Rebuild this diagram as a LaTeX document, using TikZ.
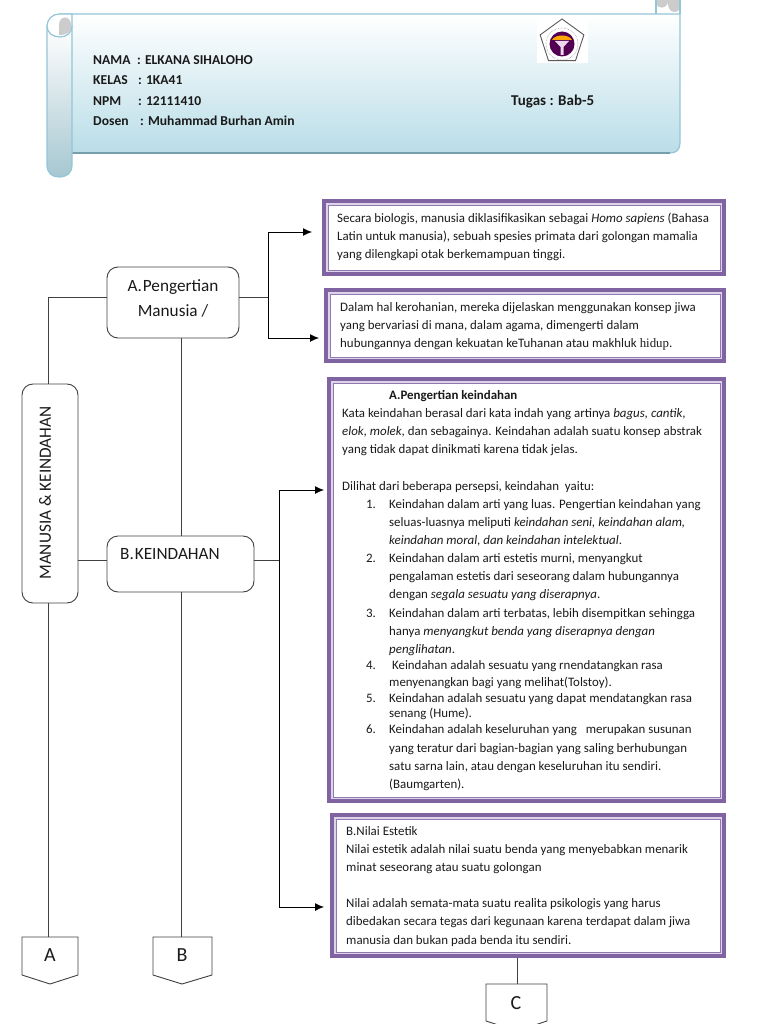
\documentclass[tikz,border=0pt]{standalone}
\usepackage{fontspec}
\setmainfont{Carlito}
\usetikzlibrary{arrows.meta,calc,shapes.geometric}
\definecolor{framep}{HTML}{8064A2}
\definecolor{framel}{HTML}{DDD4E9}
\definecolor{framet}{HTML}{9079B2}
\definecolor{linec}{HTML}{404040}
\definecolor{scrolle}{HTML}{93C6D6}
\definecolor{scrollb}{HTML}{B9DDE8}
\definecolor{txt}{HTML}{1A1A1A}
\tikzset{
  frameouter/.style={fill=framep,inner sep=0pt,outer sep=0pt},
  framemid/.style={fill=framel,inner sep=0pt,outer sep=0pt},
  frameinner/.style={fill=white,draw=framet,line width=.9pt,inner sep=0pt,outer sep=0pt},
  conn/.style={draw=linec,line width=.85pt},
  arr/.style={draw=black,line width=.9pt,-{Latex[length=9pt,width=8pt]}},
  rbox/.style={draw=linec,line width=.9pt,fill=white,rounded corners=11pt,inner sep=0pt,outer sep=0pt},
  bodytext/.style={anchor=north west,inner sep=0pt,align=left,text=txt,font=\fontsize{12.9}{18.15}\selectfont},
  boxlabel/.style={text=txt,font=\fontsize{17.2}{25}\selectfont,inner sep=0pt,align=center},
  letterlabel/.style={text=txt,font=\fontsize{20}{22}\selectfont,inner sep=0pt},
  offpage/.style={draw=linec,line width=.9pt,fill=white},
  headtext/.style={anchor=north west,inner sep=0pt,align=left,text=txt,font=\bfseries\fontsize{13.6}{20.5}\selectfont},
  tugastext/.style={anchor=north west,inner sep=0pt,text=txt,font=\bfseries\fontsize{15}{20.5}\selectfont},
}
\newcommand{\purplebox}[5]{%
  \node[frameouter,anchor=north west,minimum width=#4pt,minimum height=#5pt] (#1) at (#2,#3) {};
  \node[framemid,minimum width=#4pt-8pt,minimum height=#5pt-8pt] at (#1.center) {};
  \node[frameinner,minimum width=#4pt-12pt,minimum height=#5pt-12pt] at (#1.center) {};}
\newcommand{\itm}[2]{\hspace*{24pt}\makebox[23pt][l]{#1}#2}
\newcommand{\cnt}[1]{\hspace*{47pt}#1}
\begin{document}
\begin{tikzpicture}[x=1pt,y=-1pt]
\useasboundingbox (0,0) rectangle (768,1024);
% scroll
\path[draw=scrolle,line width=1.2pt,top color=white,bottom color=scrollb]
  (60,14) -- (680,14) -- (680,143) .. controls (680,150) and (676,153) .. (670,153) -- (60,153) -- cycle;
\draw[draw=scrolle!80!black,line width=1.4pt] (72,153) -- (670,153);
\fill[gray!40] (656,0) -- (656,4) .. controls (658,9) and (666,9) .. (668,3) .. controls (668,10) and (672,14) .. (678,11) -- (680,8) -- (680,0) -- cycle;
\draw[scrolle,line width=1.2pt] (656,0) -- (656,14);
\draw[scrolle,line width=1.2pt] (680,14) -- (680,0);
\path[draw=scrolle,line width=1.2pt,top color=white,bottom color=scrollb!90!black]
  (47,26) -- (47,165) .. controls (47,173) and (52,177) .. (59,177)
  .. controls (67,177) and (72,173) .. (72,165) -- (72,26) -- cycle;
\path[draw=scrolle,line width=1.2pt,fill=white]
  (59,14) .. controls (52,14) and (47,20) .. (47,26)
  .. controls (47,33) and (53,37) .. (60,37) .. controls (66,37) and (72,33) .. (72,26) -- (72,14) -- cycle;
\fill[gray!40] (59,35) -- (59,25) .. controls (59,15) and (71,15) .. (71,25) -- (71,30) .. controls (68,34) and (64,35) .. (59,35) -- cycle;
% logo
\fill[white] (537,18) rectangle (588,63);
\node[regular polygon,regular polygon sides=5,draw=gray!70!black,line width=.9pt,fill=white,minimum size=46pt,inner sep=0pt] (logoshape) at (562,42) {};
\fill[violet!65!black] (562,44) circle[radius=12.5pt];
\draw[gray,line width=.5pt,densely dotted] (562,44) circle[radius=16pt];
\fill[orange!70!yellow] (552,40) .. controls (555,34) and (569,34) .. (572,40) -- cycle;
\fill[white!85!violet] (555,41) -- (569,41) -- (563.5,47) -- (563.5,55) -- (560.5,55) -- (560.5,47) -- cycle;
% header text
\node[headtext] (head) at (93,55) {\makebox[44pt][l]{NAMA}: ELKANA SIHALOHO\\ \makebox[45pt][l]{KELAS}: 1KA41\\ \makebox[45pt][l]{NPM}: 12111410\\ \makebox[47pt][l]{Dosen}: Muhammad Burhan Amin};
\node[tugastext] (tugas) at (511,95) {Tugas : Bab-5};
% purple frames
\purplebox{f1}{322}{199}{404}{77}
\purplebox{f2}{324}{288}{402}{75}
\purplebox{f3}{327}{377}{399}{426}
\purplebox{f4}{330}{813}{396}{145}
\node[bodytext] (t1) at (337,213) {Secara biologis, manusia diklasifikasikan sebagai \textit{Homo sapiens} (Bahasa\\ Latin untuk manusia), sebuah spesies primata dari golongan mamalia\\ yang dilengkapi otak berkemampuan tinggi.};
\node[bodytext] (t2) at (340,302) {Dalam hal kerohanian, mereka dijelaskan menggunakan konsep jiwa\\ yang bervariasi di mana, dalam agama, dimengerti dalam\\ hubungannya dengan kekuatan keTuhanan atau makhluk {\fontspec{Liberation Serif}hidup}.};
\node[bodytext] (t3) at (342,390) {\hspace*{47pt}\textbf{A.Pengertian keindahan}\\
Kata keindahan berasal dari kata indah yang artinya \textit{bagus, cantik,}\\
\textit{elok, molek,} dan sebagainya. Keindahan adalah suatu konsep abstrak\\
yang tidak dapat dinikmati karena tidak jelas.\\
\mbox{}\\
Dilihat dari beberapa persepsi, keindahan\ \ yaitu:\\
\itm{1.}{Keindahan dalam arti yang luas. Pengertian keindahan yang}\\
\cnt{seluas-luasnya meliputi \textit{keindahan seni, keindahan alam,}}\\
\cnt{\textit{keindahan moral, dan keindahan intelektual}.}\\
\itm{2.}{Keindahan dalam arti estetis murni, menyangkut}\\
\cnt{pengalaman estetis dari seseorang dalam hubungannya}\\
\cnt{dengan \textit{segala sesuatu yang diserapnya}.}\\
\itm{3.}{Keindahan dalam arti terbatas, lebih disempitkan sehingga}\\
\cnt{hanya \textit{menyangkut benda yang diserapnya dengan}}\\
\cnt{\textit{penglihatan}.}\\[-2pt]
\itm{4.}{\ Keindahan adalah sesuatu yang rnendatangkan rasa}\\[-1.2pt]
\cnt{menyenangkan bagi yang melihat(Tolstoy).}\\[-2pt]
\itm{5.}{Keindahan adalah sesuatu yang dapat mendatangkan rasa}\\[-3pt]
\cnt{senang (Hume).}\\[-2pt]
\itm{6.}{Keindahan adalah keseluruhan yang\ \ \ merupakan susunan}\\
\cnt{yang teratur dari bagian-bagian yang saling berhubungan}\\
\cnt{satu sarna lain, atau dengan keseluruhan itu sendiri.}\\
\cnt{(Baumgarten).}};
\node[bodytext] (t4) at (346,826) {B.Nilai Estetik\\
Nilai estetik adalah nilai suatu benda yang menyebabkan menarik\\
minat seseorang atau suatu golongan\\
\mbox{}\\
Nilai adalah semata-mata suatu realita psikologis yang harus\\
dibedakan secara tegas dari kegunaan karena terdapat dalam jiwa\\
manusia dan bukan pada benda itu sendiri.};
% flow boxes
\node[rbox,anchor=north west,minimum width=132pt,minimum height=71pt] (na) at (107,267) {};
\node[boxlabel] (nalabel) at (173,298.5) {A.\hspace{1pt}Pengertian\\ Manusia /};
\node[rbox,anchor=north west,minimum width=147pt,minimum height=56pt] (nb) at (107,536) {};
\node[boxlabel,anchor=west] (nblabel) at (120,554) {B.\hspace{1pt}KEINDAHAN};
\node[rbox,anchor=north west,minimum width=56pt,minimum height=219pt] (nm) at (22,384) {};
\node[boxlabel,rotate=90] (nmlabel) at (45,493) {MANUSIA \& KEINDAHAN};
% off-page markers
\path[offpage] (22,937) -- (78,937) -- (78,975) -- (50,984) -- (22,975) -- cycle;
\node[inner sep=0pt,minimum width=56pt,minimum height=47pt,anchor=north west] (oa) at (22,937) {};
\node[letterlabel] (oalabel) at (50,955) {A};
\path[offpage] (153,937) -- (212,937) -- (212,975) -- (182,984) -- (153,975) -- cycle;
\node[inner sep=0pt,minimum width=59pt,minimum height=47pt,anchor=north west] (ob) at (153,937) {};
\node[letterlabel] (oblabel) at (182,955) {B};
\path[offpage] (486,984) -- (547,984) -- (547,1021) -- (517,1031) -- (486,1021) -- cycle;
\node[inner sep=0pt,minimum width=61pt,minimum height=40pt,anchor=north west] (oc) at (486,984) {};
\node[letterlabel] (oclabel) at (516,1003) {C};
% junctions
\coordinate (ja) at (268,297);
\coordinate (jb) at (279.5,560);
\coordinate (ja1) at (312,232);
\coordinate (ja2) at (319,338);
\coordinate (jb1) at (324,490);
\coordinate (jb2) at (324,907);
\coordinate (jl) at (48,297);
% connectors
\draw[conn] (48,384) -- (jl) -- (na.west |- jl);
\draw[conn] (nm.east |- 0,560) -- (nb.west |- 0,560);
\draw[conn] (181,338) -- (181,536);
\draw[conn] (181,592) -- (181,937);
\draw[conn] (48,603) -- (48,937);
\draw[conn] (517,958) -- (517,984);
\draw[conn] (na.east |- ja) -- (ja);
\draw[conn] (nb.east |- jb) -- (jb);
\draw[arr] (ja) -- (ja |- ja1) -- (ja1);
\draw[arr] (ja) -- (ja |- ja2) -- (ja2);
\draw[arr] (jb) -- (jb |- jb1) -- (jb1);
\draw[arr] (jb) -- (jb |- jb2) -- (jb2);
\end{tikzpicture}
\end{document}
